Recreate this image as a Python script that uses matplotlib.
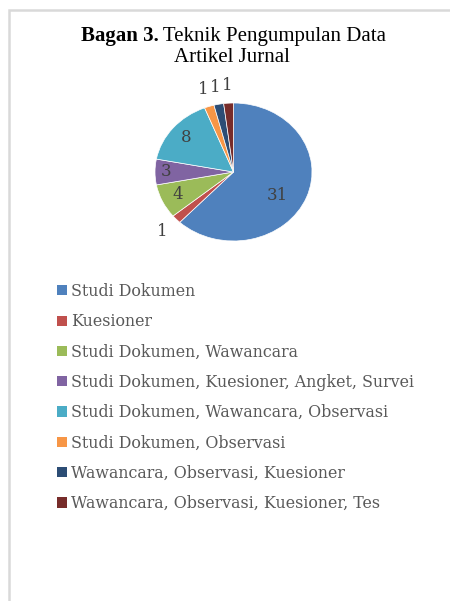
import numpy as np
import matplotlib
matplotlib.use("Agg")
import matplotlib.pyplot as plt
from matplotlib.patches import Rectangle, Patch

# data
kategori = ["Studi Dokumen", "Kuesioner", "Studi Dokumen, Wawancara",
            "Studi Dokumen, Kuesioner, Angket, Survei",
            "Studi Dokumen, Wawancara, Observasi", "Studi Dokumen, Observasi",
            "Wawancara, Observasi, Kuesioner",
            "Wawancara, Observasi, Kuesioner, Tes"]
jumlah = [31, 1, 4, 3, 8, 1, 1, 1]
warna = ["#4F81BD", "#C0504D", "#9BBB59", "#8064A2", "#4BACC6", "#F79646",
         "#2C4D75", "#772C2A"]

W, H = 450, 601
fig = plt.figure(figsize=(W / 100, H / 100), dpi=100)
judul_font = "Liberation Serif"
isi_font = "DejaVu Serif"

# frame around the chart
fig.patches.append(Rectangle((9 / W, -0.01), 1.0, 1 - 10 / H + 0.01,
                             transform=fig.transFigure, fill=False,
                             edgecolor="#d9d9d9", linewidth=1.8))

# pie (slightly wider than tall, like the original)
cx, cy, rx, ry = 233.5, 172, 78.5, 69
ax = fig.add_axes([(cx - rx) / W, 1 - (cy + ry) / H, 2 * rx / W, 2 * ry / H])
wedges, _ = ax.pie(jumlah, colors=warna, startangle=90, counterclock=False,
                   radius=1, wedgeprops=dict(edgecolor="white", linewidth=0.5))
ax.set_aspect("auto")
ax.set_xlim(-1, 1)
ax.set_ylim(-1, 1)
ax.axis("off")

for w, v in zip(wedges, jumlah):
    mid = (w.theta1 + w.theta2) / 2
    if v == 1:
        r = 1.25
    elif v > 20:
        r = 0.66
        mid -= 10
    elif v == 3:
        r = 0.86
    else:
        r = 0.78
    ang = np.deg2rad(mid)
    ax.text(r * np.cos(ang), r * np.sin(ang), str(v), ha="center",
            va="center", fontsize=12, family=isi_font, color="#404040",
            clip_on=False)

# title: bold "Bagan 3." followed by regular text
renderer = fig.canvas.get_renderer()
t1 = fig.text(0, 0, "Bagan 3.", fontsize=15, family=judul_font, weight="bold")
t2 = fig.text(0, 0, " Teknik Pengumpulan Data", fontsize=15, family=judul_font)
w1 = t1.get_window_extent(renderer).width
w2 = t2.get_window_extent(renderer).width
x0 = 233.5 - (w1 + w2) / 2
y1 = 1 - 36 / H
t1.set_position((x0 / W, y1))
t1.set_va("center")
t2.set_position(((x0 + w1) / W, y1))
t2.set_va("center")
fig.text(232 / W, 1 - 57 / H, "Artikel Jurnal", fontsize=15,
         family=judul_font, ha="center", va="center")

# legend
handles = [Patch(facecolor=c, edgecolor="none") for c in warna]
fig.legend(handles, kategori, loc="upper left",
           bbox_to_anchor=(49 / W, 1 - 275 / H), frameon=False,
           prop=dict(family=isi_font, size=11.4), labelcolor="#595959",
           handlelength=0.62, handleheight=0.62, handletextpad=0.3,
           labelspacing=0.84, borderpad=0)

fig.savefig("out.png", dpi=100)
